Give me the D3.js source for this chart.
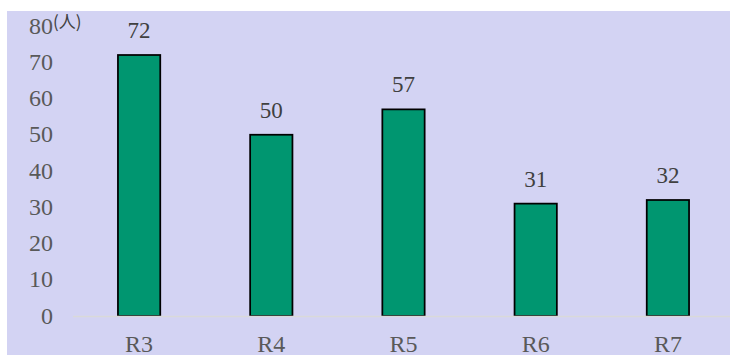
<!DOCTYPE html>
<html>
<head>
<meta charset="utf-8">
<script src="https://d3js.org/d3.v7.min.js"></script>
<style>
  html, body { margin: 0; padding: 0; background: #ffffff; }
  svg { display: block; }
</style>
</head>
<body>
<svg id="chart" width="730" height="355"></svg>
<script>
// Persons per fiscal year
const categories = ["R3", "R4", "R5", "R6", "R7"];
const values = [72, 50, 57, 31, 32];
const yTicks = [0, 10, 20, 30, 40, 50, 60, 70, 80];
const unitLabel = "(人)";

const svg = d3.select("#chart");
const W = 730, H = 355;

// plot panel background
svg.append("rect")
  .attr("x", 7).attr("y", 11)
  .attr("width", W - 7).attr("height", H - 11)
  .attr("fill", "#d3d3f3");

const x = d3.scaleBand()
  .domain(categories)
  .range([73, 734])
  .paddingInner(0.68)
  .paddingOuter(0.34);

const y = d3.scaleLinear()
  .domain([0, 80])
  .range([316, 26]);

const font = "'Liberation Serif', 'Times New Roman', serif";

// y axis labels (no line, no ticks)
const yAxis = d3.axisLeft(y).tickValues(yTicks).tickSize(0).tickPadding(0);
const gy = svg.append("g").attr("transform", "translate(53,0)").call(yAxis);
gy.select(".domain").remove();
gy.selectAll("text")
  .attr("fill", "#595959")
  .attr("dy", "0.3em")
  .style("font-family", font)
  .style("font-size", "24px");

// unit label
svg.append("text")
  .attr("x", 53).attr("y", 28)
  .attr("fill", "#404040")
  .style("font-family", "'Noto Sans CJK JP', sans-serif")
  .style("font-size", "17px")
  .text(unitLabel);

// bars
svg.append("g").selectAll("rect")
  .data(values)
  .join("rect")
  .attr("x", (d, i) => x(categories[i]))
  .attr("y", d => y(d))
  .attr("width", x.bandwidth())
  .attr("height", d => y(0) - y(d))
  .attr("fill", "#009670")
  .attr("stroke", "#000000")
  .attr("stroke-width", 1.75);

// x axis baseline and labels
const xAxis = d3.axisBottom(x).tickSize(0).tickPadding(0);
const gx = svg.append("g").attr("transform", `translate(0,${y(0)})`).call(xAxis);
gx.select(".domain").remove();
svg.append("line")
  .attr("x1", 73).attr("x2", W)
  .attr("y1", y(0) + 0.5).attr("y2", y(0) + 0.5)
  .attr("stroke", "#d9d9d9").attr("stroke-width", 1.5);
gx.selectAll("text")
  .attr("fill", "#595959")
  .attr("y", 35.5)
  .attr("dy", "0")
  .style("font-family", font)
  .style("font-size", "24px");

// value labels above bars
svg.append("g").selectAll("text")
  .data(values)
  .join("text")
  .attr("x", (d, i) => x(categories[i]) + x.bandwidth() / 2)
  .attr("y", d => y(d) - 17)
  .attr("text-anchor", "middle")
  .attr("fill", "#404040")
  .style("font-family", font)
  .style("font-size", "23px")
  .text(d => d);
</script>
</body>
</html>
